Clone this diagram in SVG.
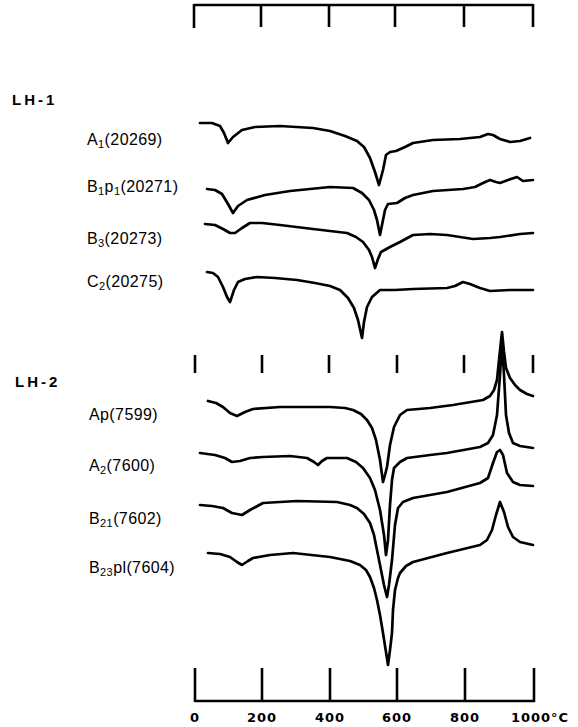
<svg xmlns="http://www.w3.org/2000/svg" width="578" height="727" viewBox="0 0 578 727">
<style>
.ax{fill:none;stroke:#000;stroke-width:2.6;stroke-linecap:butt}
.cv{fill:none;stroke:#000;stroke-width:2.7;stroke-linejoin:round;stroke-linecap:round}
.lb{font-family:"Liberation Sans",Arial,sans-serif;font-size:16px;letter-spacing:0.4px;fill:#000}
.sb{font-size:11px}
.grp{font-family:"Liberation Sans",Arial,sans-serif;font-size:15px;font-weight:bold;letter-spacing:3px;fill:#000}
.tk{font-family:"DejaVu Sans",sans-serif;font-size:13px;font-weight:bold;letter-spacing:1px;fill:#000;text-anchor:middle}
</style>
<rect width="578" height="727" fill="#fff"/>
<g id="top-axis">
<path class="ax" d="M194,5 H533 M194,4 V28 M261,4 V27 M329,4 V27 M395,4 V27 M464,4 V27 M533,4 V27"/>
</g>
<g id="mid-ticks">
<path class="ax" d="M195,355 V373 M262,355 V373 M329,355 V373 M397,355 V373 M464,355 V373 M533,355 V373"/>
</g>
<g id="bottom-axis">
<path class="ax" d="M195,701 H535 M195,668 V702 M262,668 V702 M330,668 V702 M397,668 V702 M465,668 V702 M534,668 V702"/>
<text class="tk" x="195" y="722">0</text>
<text class="tk" x="262" y="722">200</text>
<text class="tk" x="330" y="722">400</text>
<text class="tk" x="397" y="722">600</text>
<text class="tk" x="465" y="722">800</text>
<text class="tk" x="540" y="722">1000°C</text>
</g>
<g id="LH-1">
<text class="grp" x="12" y="105">LH-1</text>
</g>
<g id="LH-2">
<text class="grp" x="15" y="387">LH-2</text>
</g>
<g id="A1">
<text class="lb" x="87" y="145">A<tspan class="sb" dy="3">1</tspan><tspan dy="-3">(20269)</tspan></text>
</g>
<g id="B1p1">
<text class="lb" x="87" y="192">B<tspan class="sb" dy="3">1</tspan><tspan dy="-3">p</tspan><tspan class="sb" dy="3">1</tspan><tspan dy="-3">(20271)</tspan></text>
</g>
<g id="B3">
<text class="lb" x="87" y="244">B<tspan class="sb" dy="3">3</tspan><tspan dy="-3">(20273)</tspan></text>
</g>
<g id="C2">
<text class="lb" x="87" y="287">C<tspan class="sb" dy="3">2</tspan><tspan dy="-3">(20275)</tspan></text>
</g>
<g id="Ap">
<text class="lb" x="89" y="420">Ap(7599)</text>
</g>
<g id="A2">
<text class="lb" x="89" y="471">A<tspan class="sb" dy="3">2</tspan><tspan dy="-3">(7600)</tspan></text>
</g>
<g id="B21">
<text class="lb" x="89" y="524">B<tspan class="sb" dy="3">21</tspan><tspan dy="-3">(7602)</tspan></text>
</g>
<g id="B23pl">
<text class="lb" x="89" y="573">B<tspan class="sb" dy="3">23</tspan><tspan dy="-3">pl(7604)</tspan></text>
</g>
<g id="curves">
<polyline class="cv" points="200,123 212,123 220,126 224,133 228,143 233,137 242,130 255,127 280,126 313,128 330,131 345,136 357,141 364,147 370,158 375,172 379,185 383,170 386,155 390,152 396,151 405,147 413,143 433,140 460,139 480,137 488,134 493,135 500,139 510,142 520,141 530,138"/>
<polyline class="cv" points="207,189 215,190 222,194 228,204 233,213 238,206 247,200 265,195 290,191 330,187 353,188 362,193 369,200 374,210 377,220 380,235 383,220 385,210 388,204 397,203 405,198 413,195 433,191 463,189 475,187 483,183 490,180 496,182 500,183 508,180 517,177 523,181 533,180"/>
<polyline class="cv" points="205,224 215,225 223,229 230,233 235,233 242,228 250,223 262,223 280,225 313,229 347,233 356,237 363,242 369,250 372,257 375,268 378,259 381,252 390,247 400,242 413,235 430,234 447,235 460,237 473,239 490,238 500,237 520,234 533,233"/>
<polyline class="cv" points="207,272 213,273 218,277 223,287 227,297 230,302 234,290 238,282 245,279 257,277 275,278 297,280 315,283 330,286 340,290 348,298 354,308 358,320 362,338 364,322 367,307 372,297 380,290 395,290 413,289 447,288 455,286 463,282 470,284 480,288 490,291 510,290 533,290"/>
<polyline class="cv" points="208,401 216,403 223,407 230,413 237,416 245,412 253,409 280,407 330,407 345,408 353,410 361,414 367,420 372,428 376,440 380,460 383,482 385,475 387,467 390,445 394,427 400,415 407,410 430,408 453,405 483,400 490,396 494,390 497,380 499,360 502,332 504,352 506,368 510,378 515,385 520,390 527,394 533,396"/>
<polyline class="cv" points="200,453 215,455 225,458 232,462 240,461 250,458 263,457 290,456 307,458 314,462 318,465 322,461 327,458 347,458 356,462 363,468 370,478 375,490 380,510 384,535 386,555 388,540 390,505 392,480 394,468 400,462 407,458 430,455 447,453 480,447 488,443 493,435 497,415 500,375 502,342 504,375 506,415 509,433 513,443 520,446 533,448"/>
<polyline class="cv" points="200,505 212,506 223,508 232,513 242,515 250,510 263,503 297,501 337,502 350,505 357,508 364,514 370,523 374,535 377,550 381,570 384,585 387,597 389,585 392,560 395,525 398,508 403,502 413,498 447,492 480,483 488,478 493,463 497,452 500,450 503,455 507,473 513,482 520,485 533,486"/>
<polyline class="cv" points="208,553 220,554 230,557 237,562 242,565 248,561 253,558 270,555 293,553 330,557 350,561 360,565 366,570 370,577 374,588 377,600 380,615 383,633 386,652 388,665 390,650 392,633 393,610 395,590 398,578 400,573 406,566 413,562 447,553 480,545 487,540 492,530 496,515 500,502 504,512 508,527 513,537 520,542 533,545"/>
</g>
</svg>
